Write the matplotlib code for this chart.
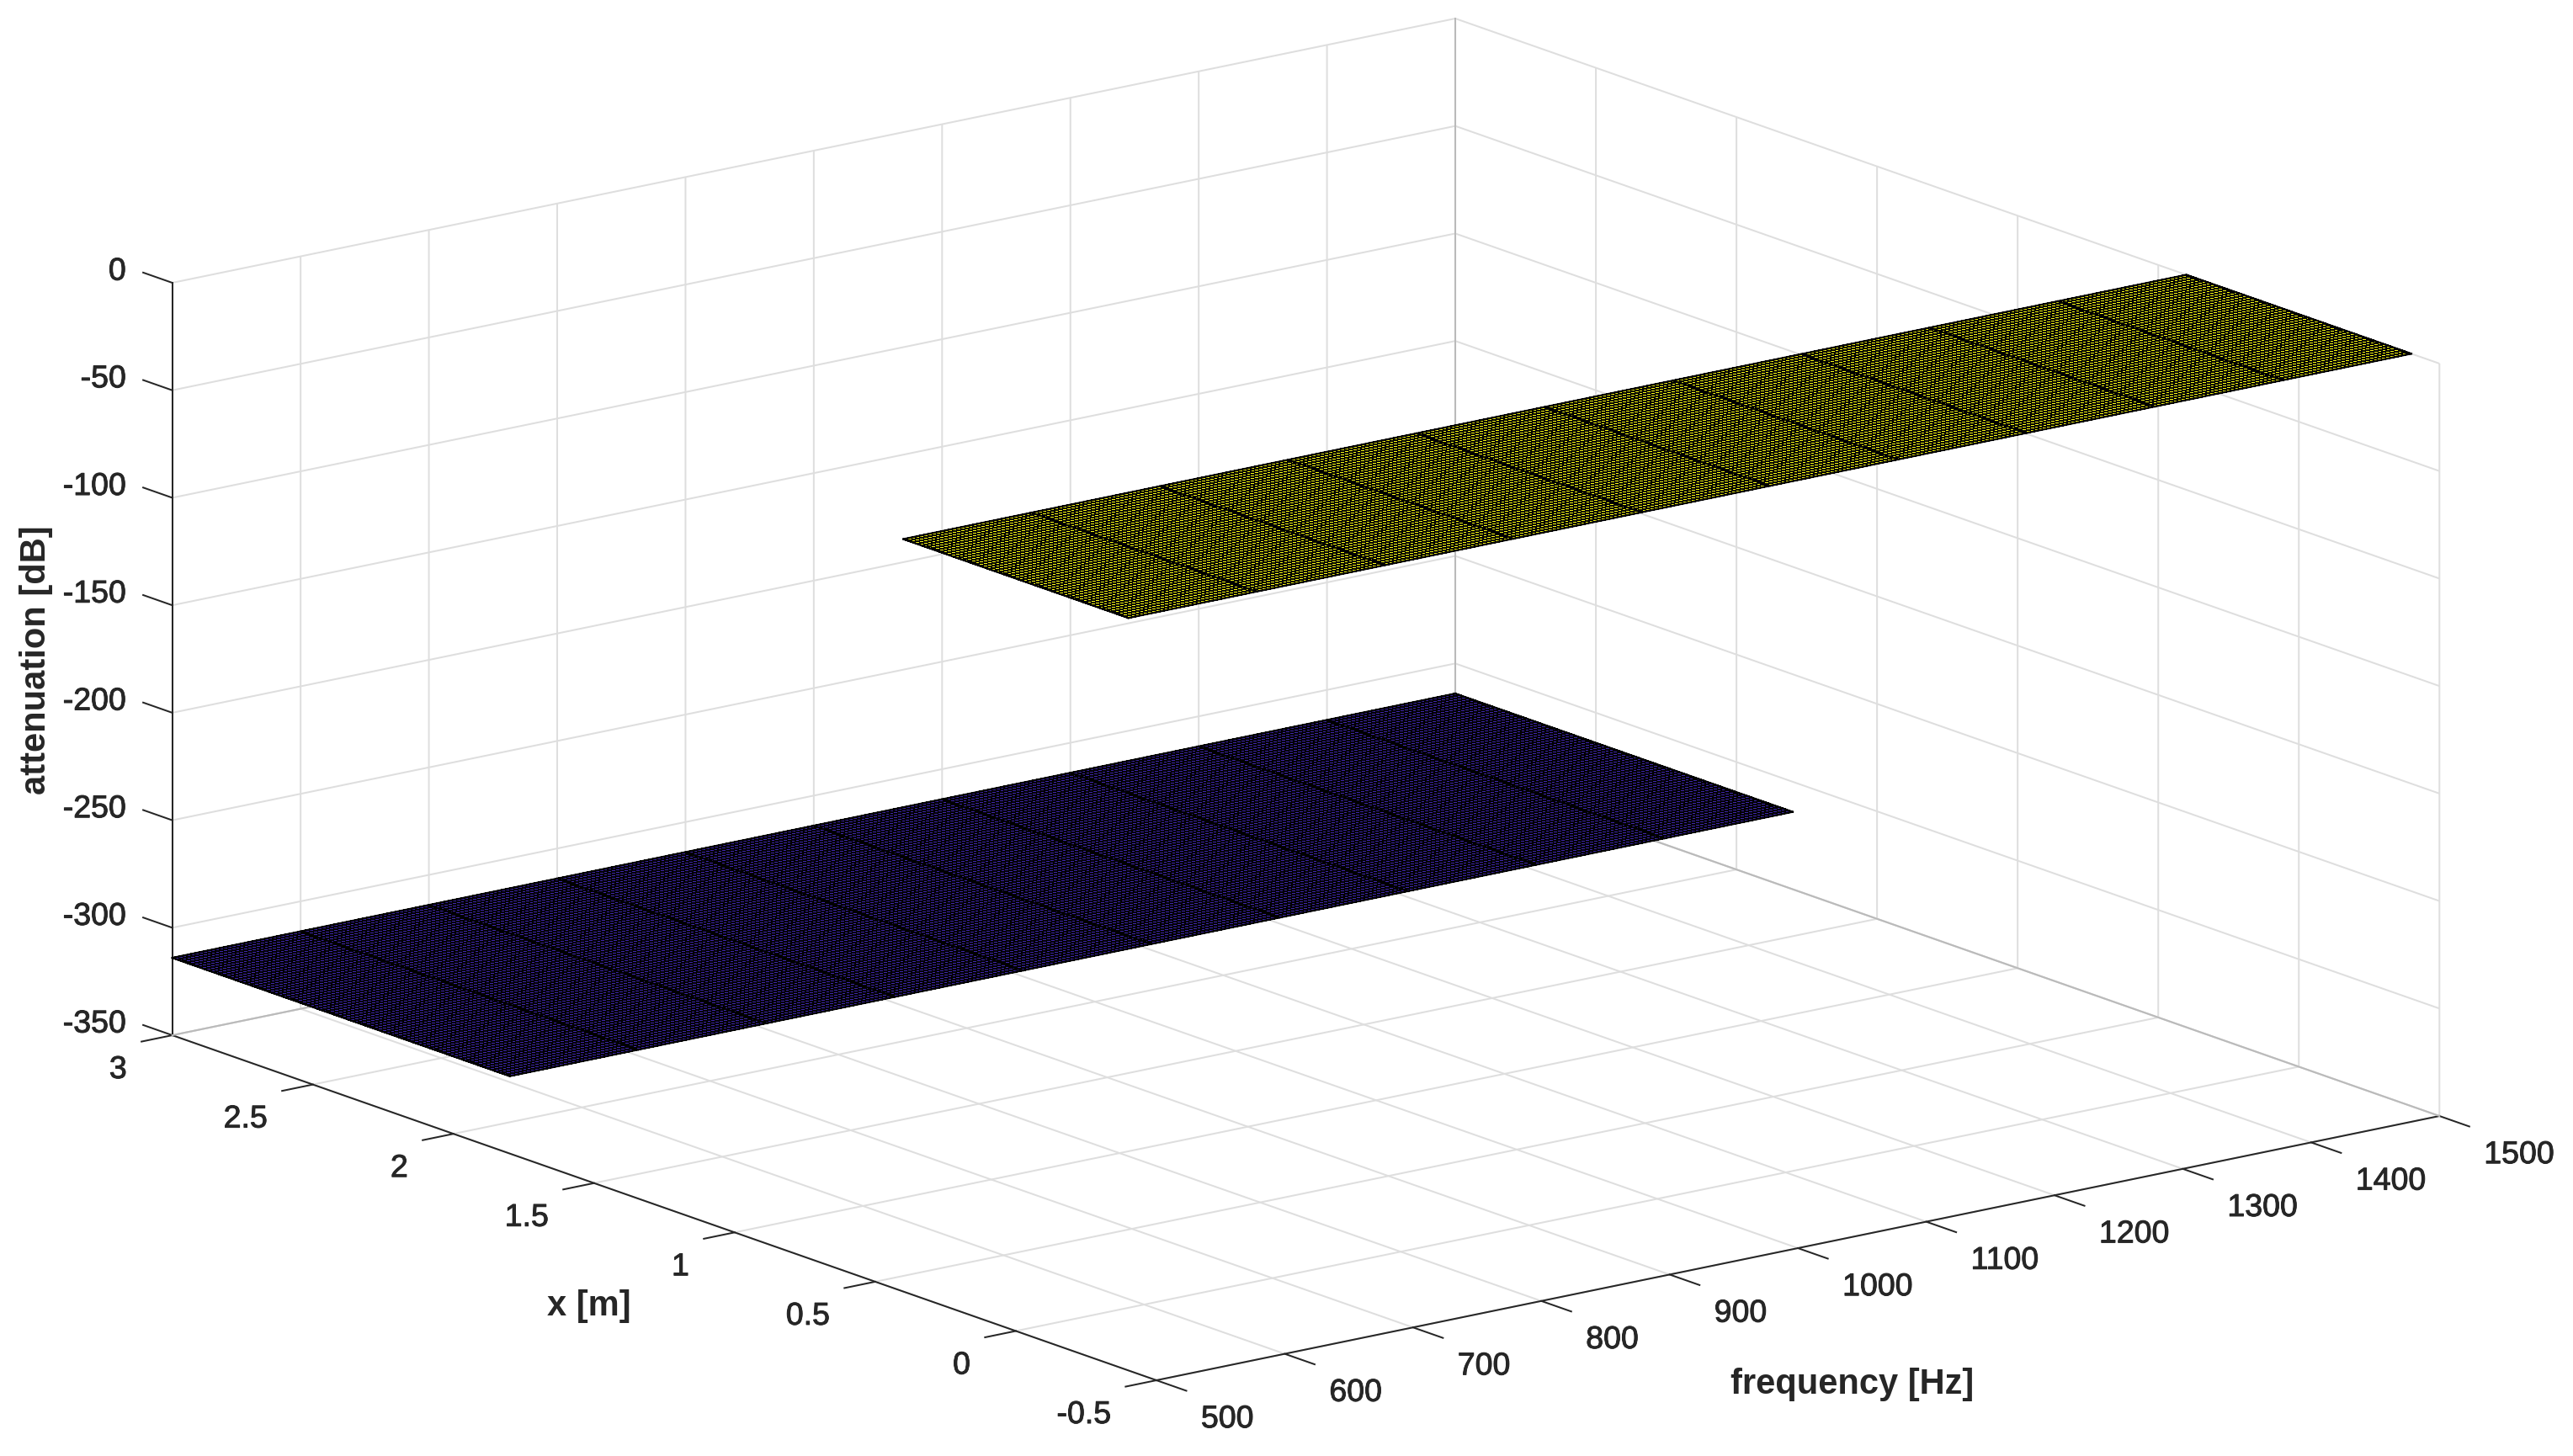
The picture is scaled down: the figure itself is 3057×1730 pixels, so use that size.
#!/usr/bin/env python3

import numpy as np
import matplotlib

matplotlib.use("Agg")
import matplotlib.pyplot as plt
import matplotlib.patheffects as pe

W, H = 3057, 1730

freq = [500, 600, 700, 800, 900, 1000, 1100, 1200, 1300, 1400, 1500]
x_low = [1.8, 3.0]
x_high = [-0.4, 0.4]
x_step = 0.016
att_low = -314
att_high = 0

freq_ticks = [500, 600, 700, 800, 900, 1000, 1100, 1200, 1300, 1400, 1500]
x_ticks = [-0.5, 0, 0.5, 1, 1.5, 2, 2.5, 3]
x_labels = ["-0.5", "0", "0.5", "1", "1.5", "2", "2.5", "3"]
att_ticks = [-350, -300, -250, -200, -150, -100, -50, 0]
att_labels = ["-350", "-300", "-250", "-200", "-150", "-100", "-50", "0"]

INK = "#262626"
GRID = "#dedede"
EDGE = "#bababa"


def plane(ax, xr, att, color):
    xs = np.arange(xr[0], xr[1] + x_step / 2, x_step)
    F, X = np.meshgrid(freq, xs)
    Z = np.full(F.shape, float(att))
    ax.plot_surface(
        F, X, Z, rstride=1, cstride=1, color=color, edgecolor="k",
        linewidth=0.72, antialiased=False, shade=False, zorder=3,
    )
    # the mesh columns at each frequency and the long edges read heavier
    for f in freq:
        ax.plot([f, f], xr, [att, att], color="k", lw=1.6, zorder=4)
    for x in xr:
        ax.plot([freq[0], freq[-1]], [x, x], [att, att], color="k", lw=1.6, zorder=4)


def main():
    plt.rcParams["font.family"] = ["Liberation Sans", "DejaVu Sans"]
    plt.rcParams["grid.color"] = GRID
    plt.rcParams["grid.linewidth"] = 1.44
    plt.rcParams["axes.linewidth"] = 1.44
    plt.rcParams["axes.edgecolor"] = INK
    plt.rcParams["xtick.major.width"] = 1.44
    plt.rcParams["ytick.major.width"] = 1.44
    plt.rcParams["xtick.color"] = INK
    plt.rcParams["ytick.color"] = INK

    fig = plt.figure(figsize=(W / 100, H / 100), dpi=100)
    # axes bigger than the canvas so the mplot3d clip box never cuts the marks
    side = 3300
    ax = fig.add_axes(
        [-143.1 / W, -795.6 / H, side / W, side / H],
        projection="3d", proj_type="ortho", computed_zorder=False,
    )
    ax.view_init(elev=15.59, azim=-127.47)
    ax.set_box_aspect((1920.6, 1922, 928.2), zoom=2787.4 / side)
    ax.patch.set_alpha(0)

    ax.set_xlim(500, 1500)
    ax.set_ylim(-0.5, 3)
    ax.set_zlim(-350, 0)

    ax.set_xticks(freq_ticks)
    ax.set_yticks(x_ticks)
    ax.set_zticks(att_ticks)
    ax.set_xticklabels([])
    ax.set_yticklabels([])
    ax.set_zticklabels([])

    for axis, tick_len in ((ax.xaxis, -0.38), (ax.yaxis, -0.30), (ax.zaxis, 0.37)):
        axis.set_pane_color((1, 1, 1, 0))
        axis.pane.set_edgecolor("none")
        axis._axinfo["tick"]["outward_factor"] = tick_len
        axis._axinfo["tick"]["inward_factor"] = 0
    # matlab puts the z ticks along the x [m] direction
    ax.zaxis._get_tickdir = lambda pos: 1

    # darker back edges of the box
    ax.plot([500, 1500], [3, 3], [-350, -350], color=EDGE, lw=1.44, zorder=1)
    ax.plot([1500, 1500], [-0.5, 3], [-350, -350], color=EDGE, lw=1.44, zorder=1)
    ax.plot([1500, 1500], [3, 3], [-350, 0], color=EDGE, lw=1.44, zorder=1)

    plane(ax, x_low, att_low, "#3e26a8")
    plane(ax, x_high, att_high, "#f9fb15")

    heavy = [pe.withStroke(linewidth=0.7, foreground=INK)]
    tk = dict(fontsize=27, color=INK, va="center", path_effects=heavy)
    for f in freq_ticks:
        ax.text(f, -0.6586, -360.8, str(f), ha="left", **tk)
    for v, s in zip(x_ticks, x_labels):
        ax.text(464.6, v, -361.7, s, ha="right", **tk)
    for v, s in zip(att_ticks, att_labels):
        ax.text(500, 3.1645, v - 2.3, s, ha="right", **tk)

    lab = dict(fontsize=30, fontweight="bold", color=INK, ha="center", va="center")
    fig.text(700 / W, 1 - 1552 / H, "x [m]", **lab)
    fig.text(2201 / W, 1 - 1645 / H, "frequency [Hz]", **lab)
    fig.text(43 / W, 1 - 784 / H, "attenuation [dB]", rotation=90, **lab)

    fig.savefig("out.png", dpi=100)


if __name__ == "__main__":
    main()
